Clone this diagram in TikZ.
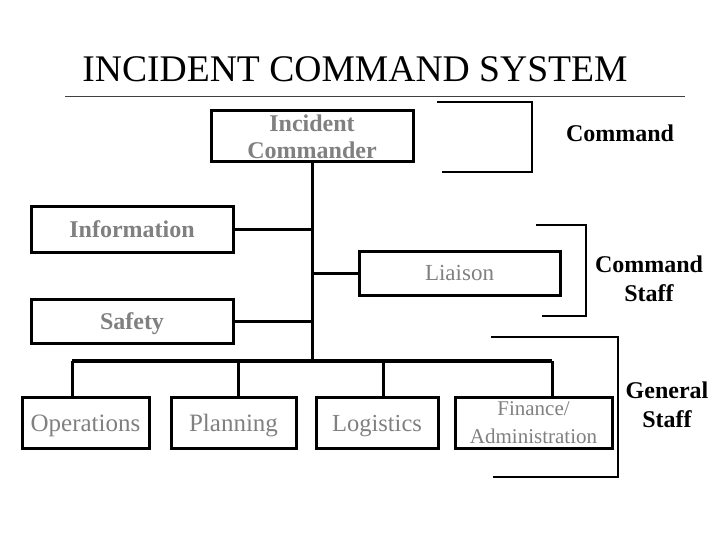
\documentclass[tikz,border=0pt]{standalone}
\usepackage{fontspec}
\setmainfont{Liberation Serif}
\usepackage{tikz}
\usetikzlibrary{positioning}

\definecolor{labelgray}{gray}{0.5}

\begin{document}
\begin{tikzpicture}[x=1pt,y=-1pt,
    box/.style={draw=black,line width=3pt,inner sep=0pt,text=labelgray,align=center,text depth=0pt},
    link/.style={line width=3pt},
    brack/.style={line width=2.8pt},
    staff/.style={font=\fontsize{24}{29}\selectfont\bfseries,align=center}]
    \useasboundingbox (0,0) rectangle (720,540);

    % title
    \node[anchor=base] (title) at (355,82) {\fontsize{37.6}{40}\selectfont INCIDENT COMMAND SYSTEM};
    \draw[line width=0.8pt,black!75] (65,96) -- (685,96);

    % command
    \node[box,minimum width=202pt,minimum height=51pt,font=\fontsize{24}{27}\selectfont\bfseries] (ic) at (312,136.5) {Incident\\Commander};
    \node[staff] (cmd) at (620,133) {Command};

    % command staff
    \node[box,minimum width=202pt,minimum height=45pt,font=\fontsize{24}{24}\selectfont\bfseries] (info) at (132,229.5) {Information};
    \node[box,minimum width=201pt,minimum height=44pt,font=\fontsize{23}{24}\selectfont] (liaison) at (459.5,273) {Liaison};
    \node[box,minimum width=202pt,minimum height=44pt,font=\fontsize{24}{24}\selectfont\bfseries] (safety) at (132,321) {Safety};
    \node[staff] (cstaff) at (649,279) {Command\\Staff};

    % general staff
    \node[box,minimum width=127pt,minimum height=51pt,font=\fontsize{25}{26}\selectfont] (ops) at (85.5,423) {Operations};
    \node[box,minimum width=125pt,minimum height=51pt,font=\fontsize{25}{26}\selectfont] (plan) at (233.5,423) {Planning};
    \node[box,minimum width=122pt,minimum height=51pt,font=\fontsize{24.5}{26}\selectfont] (logi) at (377,423) {Logistics};
    \node[box,minimum width=157pt,minimum height=51pt,font=\fontsize{21}{28}\selectfont] (fin) at (533.5,423) {Finance/\\Administration};
    \node[staff] (gstaff) at (667,405) {General\\Staff};

    % bus
    \coordinate (b1) at (72,361);
    \coordinate (b2) at (238,361);
    \coordinate (b3) at (383,361);
    \coordinate (b4) at (552,361);

    \draw[link] (ic.south) -- (ic.south |- b1);
    \draw[link] (info.east) -- (info.east -| ic.south);
    \draw[link] (safety.east) -- (safety.east -| ic.south);
    \draw[link] (liaison.west) -- (liaison.west -| ic.south);
    \draw[line width=4pt] (b1) -- (b4);
    \draw[link] (b1) -- (b1 |- ops.north);
    \draw[link] (b2) -- (b2 |- plan.north);
    \draw[link] (b3) -- (b3 |- logi.north);
    \draw[link] (b4) -- (b4 |- fin.north);

    % brackets
    \draw[brack] (437,102) -- (532,102) -- (532,172) -- (442,172);
    \draw[brack] (536,225) -- (586,225) -- (586,316) -- (542,316);
    \draw[brack] (491,337) -- (618,337) -- (618,477) -- (493,477);
\end{tikzpicture}
\end{document}
